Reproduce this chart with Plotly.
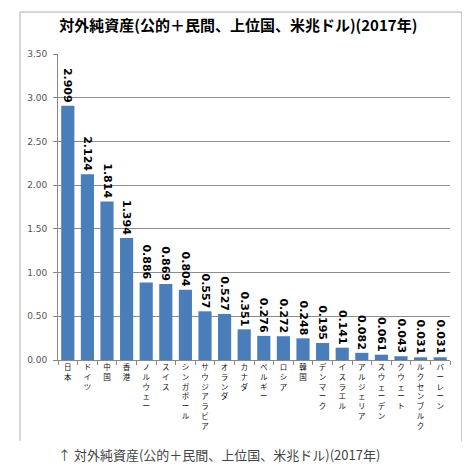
import plotly.graph_objects as go

countries = ["日本", "ドイツ", "中国", "香港", "ノルウェー", "スイス", "シンガポール",
             "サウジアラビア", "オランダ", "カナダ", "ベルギー", "ロシア", "韓国",
             "デンマーク", "イスラエル", "アルジェリア", "スウェーデン", "クウェート",
             "ルクセンブルク", "バーレーン"]
net_assets = [2.909, 2.124, 1.814, 1.394, 0.886, 0.869, 0.804, 0.557, 0.527, 0.351,
              0.276, 0.272, 0.248, 0.195, 0.141, 0.082, 0.061, 0.043, 0.031, 0.031]
y_ticks = [0, 0.5, 1.0, 1.5, 2.0, 2.5, 3.0, 3.5]

title = "対外純資産(公的＋民間、上位国、米兆ドル)(2017年)"

# stack the characters so the labels read top to bottom like the excel chart
tick_text = ["<br>".join(list(c)) for c in countries]

fig = go.Figure()
fig.add_trace(go.Bar(
    x=countries, y=net_assets,
    marker=dict(color="#4a7ebb", line=dict(width=0)),
    text=["<b>%.3f</b>" % v for v in net_assets],
    textposition="outside", textangle=90, cliponaxis=False, constraintext="none",
    textfont=dict(family="DejaVu Sans", size=11, color="#000000"),
))

fig.update_layout(
    width=470, height=466,
    margin=dict(l=50, r=28, t=46, b=114),
    plot_bgcolor="white", paper_bgcolor="white",
    showlegend=False, bargap=0.33,
    font=dict(family="Noto Sans CJK JP"),
    title=dict(text="<b>" + title + "</b>", x=0.49, xanchor="center", y=0.962, yanchor="middle",
               font=dict(family="Noto Sans CJK JP", size=15, color="#000000")),
)
fig.update_xaxes(
    tickmode="array", tickvals=countries, ticktext=tick_text,
    tickangle=0, tickfont=dict(family="Noto Sans CJK JP", size=7.5, color="#111111"),
    showline=True, linecolor="#888888", linewidth=1,
    ticks="outside", tickson="boundaries", ticklen=4, tickcolor="#888888",
    showgrid=False,
)
fig.update_yaxes(
    range=[0, 3.5], tickvals=y_ticks, tickformat=".2f",
    tickfont=dict(family="DejaVu Sans", size=9, color="#555555"),
    showline=True, linecolor="#888888", linewidth=1,
    ticks="outside", ticklen=4, tickcolor="#888888", ticklabelstandoff=4,
    showgrid=True, gridcolor="#8c8c8c", gridwidth=1, zeroline=False,
)

# light frame around the chart (bottom edge is cut off in the original)
fig.add_shape(type="path", xref="paper", yref="paper",
              path="M -0.097,-0.265 L -0.097,1.137 L 1.030,1.137 L 1.030,-0.265",
              line=dict(color="#b0b0b0", width=1))

fig.add_annotation(text="↑ " + title, xref="paper", yref="paper", x=-0.005, y=-0.31,
                   xanchor="left", yanchor="middle", showarrow=False,
                   font=dict(family="Noto Sans CJK JP", size=13, color="#444444"))

fig.write_html("out.html")
